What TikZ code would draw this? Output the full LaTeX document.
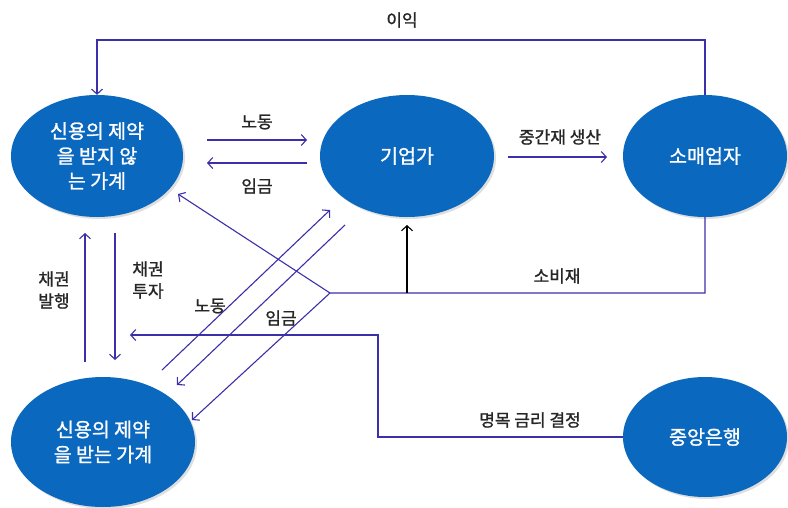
\documentclass[tikz,border=0pt]{standalone}
\usepackage{fontspec}
\setmainfont{Noto Sans CJK KR}
\newfontfamily\medf[FakeBold=1.2]{Noto Sans CJK KR}
\usetikzlibrary{arrows.meta,shapes.geometric,shadows}
\definecolor{nodeblue}{RGB}{10,104,190}
\definecolor{flowc}{RGB}{60,48,170}
\begin{document}
\begin{tikzpicture}[x=1pt,y=-1pt,
  blob/.style={ellipse, fill=nodeblue, text=white, align=center, inner sep=0pt,
    font=\medf\fontsize{19.5}{25}\selectfont,
    drop shadow={opacity=0.25, shadow xshift=2pt, shadow yshift=-2pt}},
  flow/.style={draw=flowc, line width=1.1pt, -{Straight Barb[length=5pt,width=11pt]}},
  flowk/.style={draw=black, line width=1.1pt, -{Straight Barb[length=5pt,width=11pt]}},
  lab/.style={font=\medf\fontsize{17}{22}\selectfont, text=black!85, align=center, inner sep=0pt}]
\useasboundingbox (0,0) rectangle (788,507);
\fill[white] (0,0) rectangle (788,507);

% nodes
\node[blob, minimum width=172pt, minimum height=122pt] (hu) at (97,156) {신용의 제약\\을 받지 않\\는 가계};
\node[blob, minimum width=174pt, minimum height=122pt] (ent) at (407,156) {기업가};
\node[blob, minimum width=164pt, minimum height=122pt] (ret) at (705,156) {소매업자};
\node[blob, minimum width=184pt, minimum height=130pt] (hc) at (103,442) {신용의 제약\\을 받는 가계};
\node[blob, minimum width=164pt, minimum height=120pt] (cb) at (705,437) {중앙은행};

% coordinates
\coordinate (p1) at (705,40);
\coordinate (p2) at (97,40);
\coordinate (la) at (207,140);
\coordinate (lb) at (307,140);
\coordinate (wa) at (307,163);
\coordinate (wb) at (207,163);
\coordinate (ma) at (508,157);
\coordinate (mb) at (607,157);
\coordinate (c1) at (705,293);
\coordinate (cv) at (330,293);
\coordinate (cm) at (407,293);
\coordinate (ce) at (407,225);
\coordinate (ch) at (178,194);
\coordinate (cl) at (192,420);
\coordinate (da) at (162,370);
\coordinate (db) at (330,210);
\coordinate (ea) at (345,225);
\coordinate (eb) at (177,385);
\coordinate (ba) at (85,362);
\coordinate (bb) at (85,233);
\coordinate (ia) at (115,233);
\coordinate (ib) at (115,360);
\coordinate (n1) at (378,437);
\coordinate (n2) at (378,335);
\coordinate (n3) at (130,335);

% connectors
\draw[flow] (ret.north) -- (p1) -- (p2) -- (hu.north);
\draw[flow] (la) -- (lb);
\draw[flow] (wa) -- (wb);
\draw[flow] (ma) -- (mb);
\draw[flow] (ret.south) -- (c1) -- (cv) -- (ch);
\draw[flow] (cv) -- (cl);
\draw[flowk] (cm) -- (ce);
\draw[flow] (da) -- (db);
\draw[flow] (ea) -- (eb);
\draw[flow] (ba) -- (bb);
\draw[flow] (ia) -- (ib);
\draw[flow] (cb.west) -- (n1) -- (n2) -- (n3);

% labels
\node[lab] (t1) at (402,20) {이익};
\node[lab] (t2) at (257,122) {노동};
\node[lab] (t3) at (257,186) {임금};
\node[lab] (t4) at (560,137) {중간재 생산};
\node[lab] (t5) at (557,276) {소비재};
\node[lab] (t6) at (54,290) {채권\\발행};
\node[lab] (t7) at (148,280) {채권\\투자};
\node[lab] (t8) at (210,306) {노동};
\node[lab] (t9) at (281,318) {임금};
\node[lab] (t10) at (530,420) {명목 금리 결정};
\end{tikzpicture}
\end{document}
